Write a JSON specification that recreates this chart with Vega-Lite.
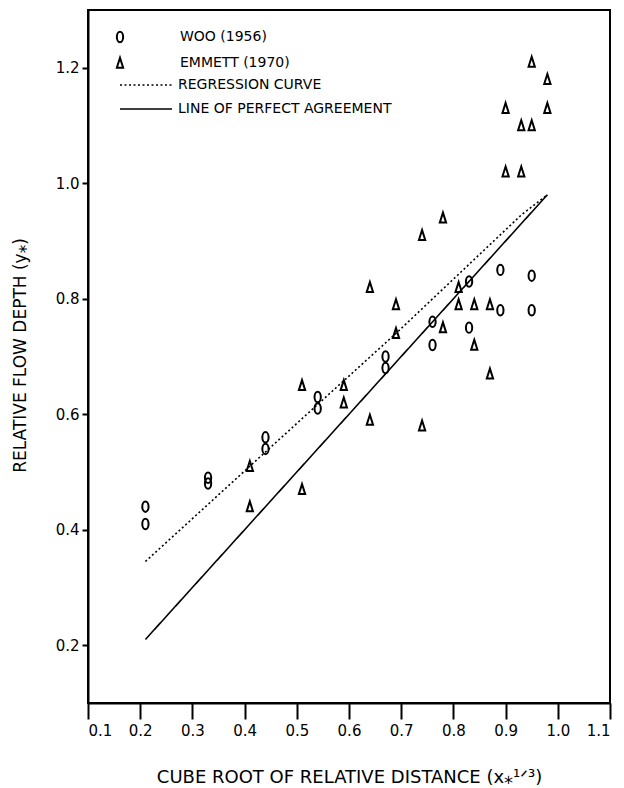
{
  "$schema": "https://vega.github.io/schema/vega-lite/v6.json",
  "width": 522,
  "height": 693,
  "autosize": {"type": "none"},
  "padding": {"left": 88, "top": 10, "right": 14, "bottom": 85},
  "background": "white",
  "config": {
    "view": {"stroke": "black", "strokeWidth": 2},
    "font": "DejaVu Sans",
    "axis": {"domainColor": "black", "domainWidth": 2, "tickColor": "black", "tickWidth": 2, "labelColor": "black", "titleColor": "black", "grid": false, "titleFontWeight": "normal", "labelFont": "DejaVu Sans", "titleFont": "DejaVu Sans"},
    "legend": {"labelFont": "DejaVu Sans", "labelFontSize": 14, "labelColor": "black", "labelLimit": 400}
  },
  "datasets": {
    "points": [
      {"series": "WOO (1956)", "x": 0.21, "y": 0.44},
      {"series": "WOO (1956)", "x": 0.21, "y": 0.41},
      {"series": "WOO (1956)", "x": 0.33, "y": 0.49},
      {"series": "WOO (1956)", "x": 0.33, "y": 0.48},
      {"series": "WOO (1956)", "x": 0.44, "y": 0.56},
      {"series": "WOO (1956)", "x": 0.44, "y": 0.54},
      {"series": "WOO (1956)", "x": 0.54, "y": 0.63},
      {"series": "WOO (1956)", "x": 0.54, "y": 0.61},
      {"series": "WOO (1956)", "x": 0.67, "y": 0.70},
      {"series": "WOO (1956)", "x": 0.67, "y": 0.68},
      {"series": "WOO (1956)", "x": 0.76, "y": 0.76},
      {"series": "WOO (1956)", "x": 0.76, "y": 0.72},
      {"series": "WOO (1956)", "x": 0.83, "y": 0.83},
      {"series": "WOO (1956)", "x": 0.83, "y": 0.75},
      {"series": "WOO (1956)", "x": 0.89, "y": 0.85},
      {"series": "WOO (1956)", "x": 0.89, "y": 0.78},
      {"series": "WOO (1956)", "x": 0.95, "y": 0.84},
      {"series": "WOO (1956)", "x": 0.95, "y": 0.78},
      {"series": "EMMETT (1970)", "x": 0.95, "y": 1.21},
      {"series": "EMMETT (1970)", "x": 0.98, "y": 1.18},
      {"series": "EMMETT (1970)", "x": 0.90, "y": 1.13},
      {"series": "EMMETT (1970)", "x": 0.98, "y": 1.13},
      {"series": "EMMETT (1970)", "x": 0.93, "y": 1.10},
      {"series": "EMMETT (1970)", "x": 0.95, "y": 1.10},
      {"series": "EMMETT (1970)", "x": 0.90, "y": 1.02},
      {"series": "EMMETT (1970)", "x": 0.93, "y": 1.02},
      {"series": "EMMETT (1970)", "x": 0.78, "y": 0.94},
      {"series": "EMMETT (1970)", "x": 0.74, "y": 0.91},
      {"series": "EMMETT (1970)", "x": 0.64, "y": 0.82},
      {"series": "EMMETT (1970)", "x": 0.81, "y": 0.82},
      {"series": "EMMETT (1970)", "x": 0.69, "y": 0.79},
      {"series": "EMMETT (1970)", "x": 0.81, "y": 0.79},
      {"series": "EMMETT (1970)", "x": 0.84, "y": 0.79},
      {"series": "EMMETT (1970)", "x": 0.87, "y": 0.79},
      {"series": "EMMETT (1970)", "x": 0.69, "y": 0.74},
      {"series": "EMMETT (1970)", "x": 0.78, "y": 0.75},
      {"series": "EMMETT (1970)", "x": 0.84, "y": 0.72},
      {"series": "EMMETT (1970)", "x": 0.87, "y": 0.67},
      {"series": "EMMETT (1970)", "x": 0.51, "y": 0.65},
      {"series": "EMMETT (1970)", "x": 0.59, "y": 0.65},
      {"series": "EMMETT (1970)", "x": 0.59, "y": 0.62},
      {"series": "EMMETT (1970)", "x": 0.64, "y": 0.59},
      {"series": "EMMETT (1970)", "x": 0.74, "y": 0.58},
      {"series": "EMMETT (1970)", "x": 0.41, "y": 0.51},
      {"series": "EMMETT (1970)", "x": 0.41, "y": 0.44},
      {"series": "EMMETT (1970)", "x": 0.51, "y": 0.47}
    ],
    "lines": [
      {"series": "REGRESSION CURVE", "x": 0.21, "y": 0.345},
      {"series": "REGRESSION CURVE", "x": 0.41, "y": 0.51},
      {"series": "REGRESSION CURVE", "x": 0.54, "y": 0.617},
      {"series": "REGRESSION CURVE", "x": 0.69, "y": 0.74},
      {"series": "REGRESSION CURVE", "x": 0.93, "y": 0.945},
      {"series": "REGRESSION CURVE", "x": 0.98, "y": 0.98},
      {"series": "LINE OF PERFECT AGREEMENT", "x": 0.21, "y": 0.21},
      {"series": "LINE OF PERFECT AGREEMENT", "x": 0.98, "y": 0.98}
    ]
  },
  "layer": [
    {
      "data": {"name": "lines"},
      "mark": {"type": "line", "color": "black", "strokeWidth": 1.6},
      "encoding": {
        "x": {"field": "x", "type": "quantitative", "scale": {"domain": [0.1, 1.1], "nice": false, "zero": false},
          "axis": {"values": [0.1, 0.2, 0.3, 0.4, 0.5, 0.6, 0.7, 0.8, 0.9, 1.0, 1.1], "format": ".1f", "tickSize": 16, "labelFontSize": 15, "labelPadding": 4, "title": "CUBE ROOT OF RELATIVE DISTANCE (x⁎¹ᐟ³)", "titleFontSize": 18, "titleY": 74, "titleBaseline": "middle"}},
        "y": {"field": "y", "type": "quantitative", "scale": {"domain": [0.1, 1.3], "nice": false, "zero": false},
          "axis": {"values": [0.2, 0.4, 0.6, 0.8, 1.0, 1.2], "format": ".1f", "tickSize": 6, "labelFontSize": 15, "labelPadding": 3, "title": "RELATIVE FLOW DEPTH (y⁎)", "titleFontSize": 17, "titleX": -68, "titleY": 345, "titleAngle": 270, "titleAlign": "center", "titleBaseline": "middle"}},
        "strokeDash": {"field": "series", "type": "nominal",
          "scale": {"domain": ["REGRESSION CURVE", "LINE OF PERFECT AGREEMENT"], "range": [[2, 2.5], [1, 0]]},
          "legend": {"orient": "none", "legendX": 51, "legendY": 68, "title": null, "symbolType": "M-5.2,0H5.2", "symbolSize": 100, "symbolStrokeWidth": 1.6, "symbolStrokeColor": "black", "symbolFillColor": "transparent", "labelOffset": 25, "rowPadding": 10}}
      }
    },
    {
      "data": {"name": "points"},
      "mark": {"type": "point", "filled": false, "color": "black", "strokeWidth": 2, "size": 110, "opacity": 1},
      "encoding": {
        "x": {"field": "x", "type": "quantitative"},
        "y": {"field": "y", "type": "quantitative"},
        "shape": {"field": "series", "type": "nominal",
          "scale": {"domain": ["WOO (1956)", "EMMETT (1970)"], "range": ["M0,-1A0.6,1 0 1 1 0,1A0.6,1 0 1 1 0,-1Z", "M0,-1L0.6,0.9L-0.6,0.9Z"]},
          "legend": {"orient": "none", "legendX": 25, "legendY": 20, "title": null, "symbolSize": 110, "symbolStrokeWidth": 2, "symbolStrokeColor": "black", "symbolFillColor": "transparent", "labelOffset": 53, "rowPadding": 6}}
      }
    }
  ]
}
